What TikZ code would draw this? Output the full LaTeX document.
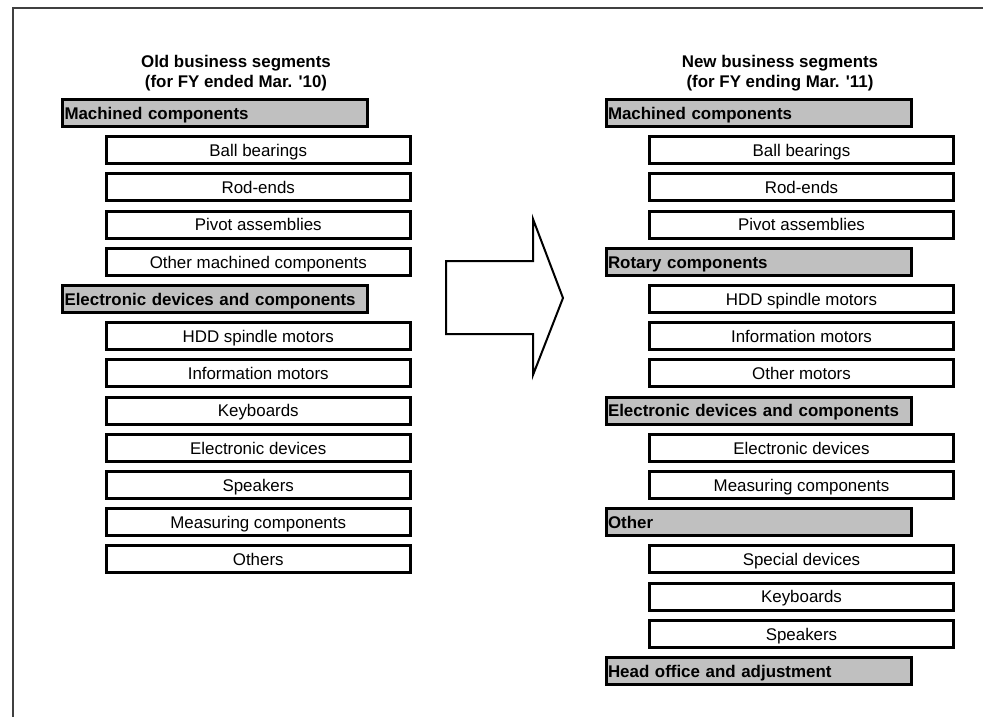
\documentclass[tikz,border=0pt]{standalone}
\usepackage{fontspec}
\setmainfont{Liberation Sans}
\begin{document}
\begin{tikzpicture}[x=1pt,y=-1pt,
  every node/.style={font=\fontsize{16.9pt}{20.3pt}\selectfont},
  segbox/.style={draw=black, fill=segfill, line width=3pt, anchor=west,
    inner xsep=2pt, inner ysep=0pt, text width=301pt, align=left,
    minimum height=27pt, text height=12.6pt, text depth=0pt, font=\fontsize{16.9pt}{20.3pt}\selectfont\bfseries},
  itembox/.style={draw=black, fill=white, line width=3pt,
    inner sep=0pt, minimum width=304pt, minimum height=27pt,
    text height=12.4pt, text depth=0pt},
  title/.style={anchor=base, font=\fontsize{16.9pt}{20.3pt}\selectfont\bfseries},
]
\definecolor{segfill}{RGB}{192,192,192}
\useasboundingbox (0,0) rectangle (983,717);
% frame
\draw[line width=1.3pt, black!75] (13,717) -- (13,8) -- (983,8);

% titles
\node[title] (tl1) at (236,67.7) {Old business segments};
\node[title] (tl2) at (236,88) {(for FY ended Mar. \textquotesingle10)};
\node[title] (tr1) at (780,67.7) {New business segments};
\node[title] (tr2) at (780,88) {(for FY ending Mar. \textquotesingle11)};

% left column
\def\yy#1{113+37.2*#1}
\node[segbox]  (l0)  at (61,{\yy{0}}) {Machined components};
\node[itembox] (l1)  at (258.25,{\yy{1}}) {Ball bearings};
\node[itembox] (l2)  at (258.25,{\yy{2}}) {Rod-ends};
\node[itembox] (l3)  at (258.25,{\yy{3}}) {Pivot assemblies};
\node[itembox] (l4)  at (258.25,{\yy{4}}) {Other machined components};
\node[segbox]  (l5)  at (61,{\yy{5}}) {Electronic devices and components};
\node[itembox] (l6)  at (258.25,{\yy{6}}) {HDD spindle motors};
\node[itembox] (l7)  at (258.25,{\yy{7}}) {Information motors};
\node[itembox] (l8)  at (258.25,{\yy{8}}) {Keyboards};
\node[itembox] (l9)  at (258.25,{\yy{9}}) {Electronic devices};
\node[itembox] (l10) at (258.25,{\yy{10}}) {Speakers};
\node[itembox] (l11) at (258.25,{\yy{11}}) {Measuring components};
\node[itembox] (l12) at (258.25,{\yy{12}}) {Others};

% right column
\node[segbox]  (r0)  at (604.5,{\yy{0}}) {Machined components};
\node[itembox] (r1)  at (801.5,{\yy{1}}) {Ball bearings};
\node[itembox] (r2)  at (801.5,{\yy{2}}) {Rod-ends};
\node[itembox] (r3)  at (801.5,{\yy{3}}) {Pivot assemblies};
\node[segbox]  (r4)  at (604.5,{\yy{4}}) {Rotary components};
\node[itembox] (r5)  at (801.5,{\yy{5}}) {HDD spindle motors};
\node[itembox] (r6)  at (801.5,{\yy{6}}) {Information motors};
\node[itembox] (r7)  at (801.5,{\yy{7}}) {Other motors};
\node[segbox]  (r8)  at (604.5,{\yy{8}}) {Electronic devices and components};
\node[itembox] (r9)  at (801.5,{\yy{9}}) {Electronic devices};
\node[itembox] (r10) at (801.5,{\yy{10}}) {Measuring components};
\node[segbox]  (r11) at (604.5,{\yy{11}}) {Other};
\node[itembox] (r12) at (801.5,{\yy{12}}) {Special devices};
\node[itembox] (r13) at (801.5,{\yy{13}}) {Keyboards};
\node[itembox] (r14) at (801.5,{\yy{14}}) {Speakers};
\node[segbox]  (r15) at (604.5,{\yy{15}}) {Head office and adjustment};

% arrow
\draw[line width=2pt, line join=miter, fill=white]
  (446,261) -- (533,261) -- (533,219) -- (563,298) -- (533,375) -- (533,334) -- (446,334) -- cycle;
\end{tikzpicture}
\end{document}
